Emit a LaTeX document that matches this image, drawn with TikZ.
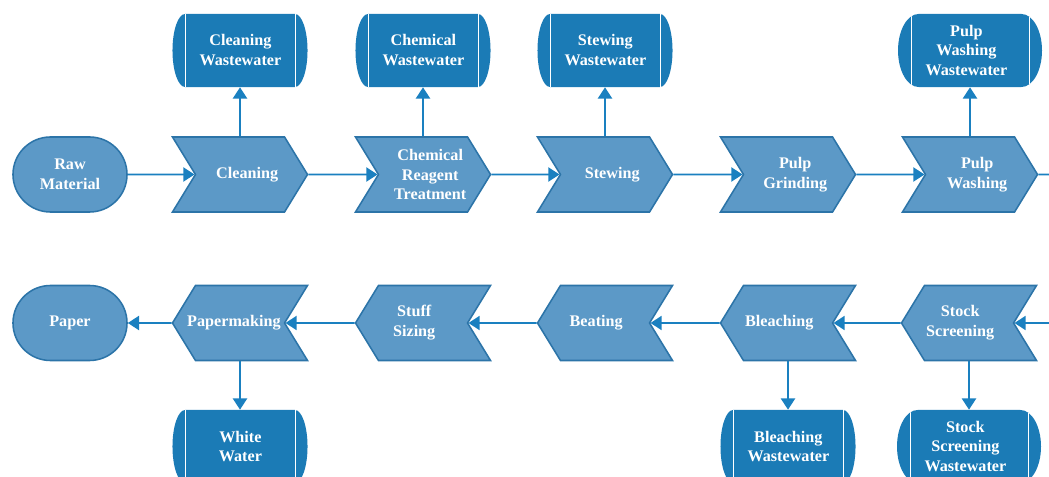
\documentclass[tikz,border=0pt]{standalone}
\usepackage{fontspec}
\setmainfont{Liberation Serif}
\usetikzlibrary{arrows.meta,shapes.symbols,shapes.geometric,shapes.misc}

\definecolor{stepfill}{RGB}{92,153,199}
\definecolor{stepedge}{RGB}{44,116,168}
\definecolor{drumfill}{RGB}{27,123,182}
\definecolor{flowline}{RGB}{26,128,192}

\tikzset{
  boxtext/.style={text=white, align=center, font=\fontsize{11.5}{14.2}\selectfont\bfseries},
  stage/.style={boxtext, signal, signal pointer angle=117, draw=stepedge, line width=1.1pt,
    fill=stepfill, minimum width=3.375cm, minimum height=1.875cm, inner sep=0pt, text width=2.2cm},
  stageR/.style={stage, signal to=east, signal from=west,
    execute at begin node={\advance\leftskip by 0.18cm\advance\rightskip by -0.18cm}},
  stageL/.style={stage, signal to=west, signal from=east,
    execute at begin node={\advance\leftskip by -0.22cm\advance\rightskip by 0.22cm}},
  endbox/.style={boxtext, rounded rectangle, draw=stepedge, line width=1.1pt, fill=stepfill,
    minimum width=2.85cm, minimum height=1.875cm, inner sep=0pt},
  drum/.style={boxtext, cylinder, aspect=0.8, anchor=shape center, draw=none, fill=drumfill,
    minimum width=1.825cm, minimum height=3.375cm, inner sep=0pt, text width=2.05cm,
    execute at begin node={\advance\leftskip by 0.17cm\advance\rightskip by -0.17cm},
    path picture={
      \draw[white, line width=0.6pt]
        ([xshift=0.33cm]path picture bounding box.north west) -- ([xshift=0.33cm]path picture bounding box.south west)
        ([xshift=-0.31cm]path picture bounding box.north east) -- ([xshift=-0.31cm]path picture bounding box.south east);
    }},
  flow/.style={draw=flowline, line width=1.4pt, -{Triangle[length=8pt,width=10pt]}}
}

\begin{document}
\begin{tikzpicture}[x=0.025cm, y=-0.025cm]
\path[use as bounding box, clip] (0,0) rectangle (1049,477);

% upper row
\node[endbox] (raw) at (70,174.5) {Raw\\Material};
\node[stageR] (clean) at (240,174.5) {Cleaning};
\node[stageR] (chem) at (423,174.5) {Chemical\\Reagent\\Treatment};
\node[stageR] (stew) at (605,174.5) {Stewing};
\node[stageR] (grind) at (788,174.5) {Pulp\\Grinding};
\node[stageR] (wash) at (970,174.5) {Pulp\\Washing};

\node[drum] (cleanww) at (240,50.5) {Cleaning\\Wastewater};
\node[drum] (chemww) at (423,50.5) {Chemical\\Wastewater};
\node[drum] (stewww) at (605,50.5) {Stewing\\Wastewater};
\node[drum] (washww) at (970,50.5) {Pulp\\Washing\\Wastewater};

% lower row
\node[endbox] (paper) at (70,323) {Paper};
\node[stageL] (making) at (240,323) {Papermaking};
\node[stageL] (sizing) at (423,323) {Stuff\\Sizing};
\node[stageL] (beating) at (605,323) {Beating};
\node[stageL] (bleach) at (788,323) {Bleaching};
\node[stageL] (screen) at (969,323) {Stock\\Screening};

\node[drum] (white) at (240,446.5) {White\\Water};
\node[drum] (bleachww) at (788,446.5) {Bleaching\\Wastewater};
\node[drum] (screenww) at (969,446.5) {Stock\\Screening\\Wastewater};

\draw[flow] (raw) -- (clean);
\draw[flow] (clean) -- (chem);
\draw[flow] (chem) -- (stew);
\draw[flow] (stew) -- (grind);
\draw[flow] (grind) -- (wash);
\draw[flow] (wash) -- ++(120,0) |- (screen);
\draw[flow] (screen) -- (bleach);
\draw[flow] (bleach) -- (beating);
\draw[flow] (beating) -- (sizing);
\draw[flow] (sizing) -- (making);
\draw[flow] (making) -- (paper);

\draw[flow] (clean.north) -- (clean.north |- cleanww.south);
\draw[flow] (chem.north) -- (chem.north |- chemww.south);
\draw[flow] (stew.north) -- (stew.north |- stewww.south);
\draw[flow] (wash.north) -- (wash.north |- washww.south);
\draw[flow] (making.south) -- (making.south |- white.north);
\draw[flow] (bleach.south) -- (bleach.south |- bleachww.north);
\draw[flow] (screen.south) -- (screen.south |- screenww.north);
\end{tikzpicture}
\end{document}
